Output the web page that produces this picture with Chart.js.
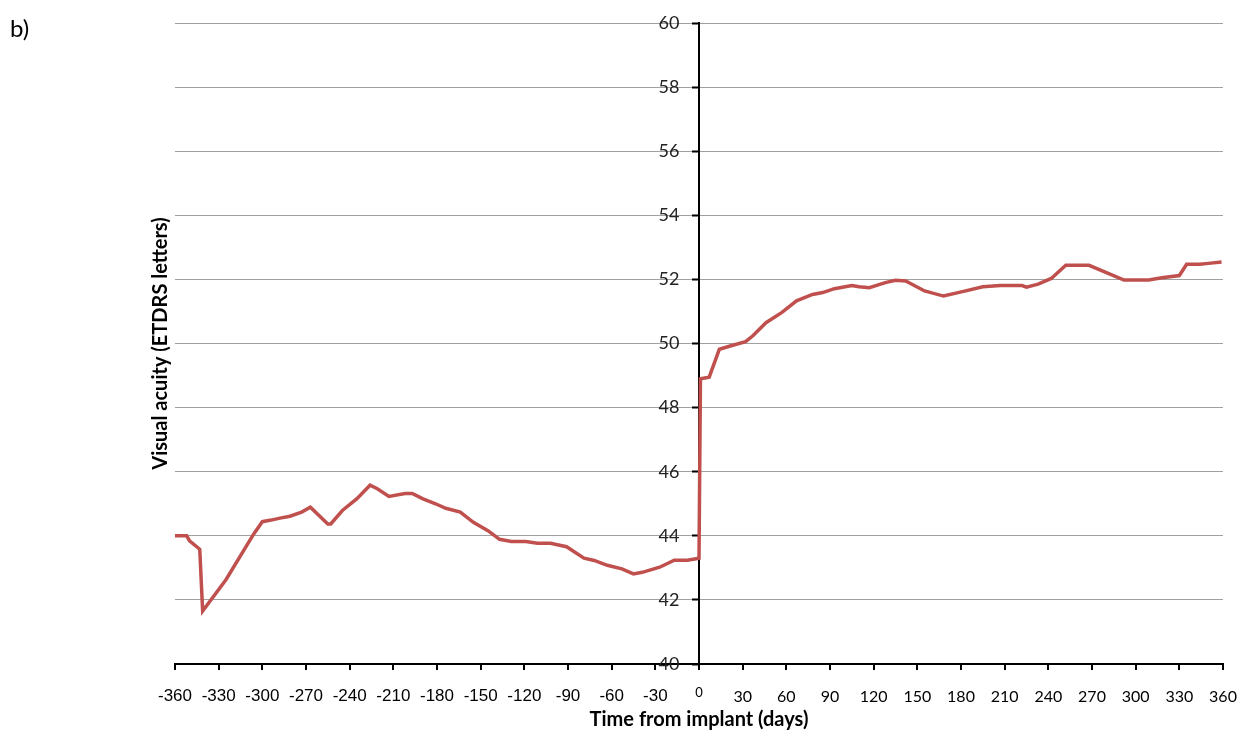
<!DOCTYPE html>
<html>
<head>
<meta charset="utf-8">
<title>Visual acuity vs time from implant</title>
<script src="https://cdn.jsdelivr.net/npm/chart.js@4/dist/chart.umd.min.js"></script>
<style>
  html, body { margin: 0; padding: 0; background: #fff; }
  #wrap { position: relative; width: 1243px; height: 734px; }
  #panel { position: absolute; left: 10px; top: 13px; font: 24px Lato, sans-serif; color: #000; }
</style>
</head>
<body>
<div id="wrap">
  <div id="panel">b)</div>
  <canvas id="chart" width="1243" height="734"></canvas>
</div>
<script>
// Days relative to implant and mean visual acuity (ETDRS letters).
const days = [
  -360, -352, -350, -343, -341, -325, -306, -300, -294, -287, -281, -273, -267,
  -255, -253, -245, -235, -226, -221, -213, -202, -197, -190, -181, -174, -164,
  -155, -145, -137, -129, -119, -111, -102, -91, -79, -72, -63, -53, -45, -39,
  -27, -17, -8, 0, 1,
  7, 14, 22, 32, 37, 46, 57, 67, 78, 85, 93, 105, 110, 117, 128, 135, 142, 155,
  168, 181, 195, 207, 222, 225, 233, 242, 252, 268, 292, 309, 318, 330, 335, 344,
  350, 359
];
const acuity = [
  44.0, 44.0, 43.84, 43.58, 41.65, 42.63, 44.05, 44.44, 44.49, 44.56, 44.61, 44.74, 44.89,
  44.37, 44.37, 44.79, 45.16, 45.58, 45.47, 45.23, 45.32, 45.32, 45.16, 45.0, 44.86, 44.74,
  44.42, 44.16, 43.89, 43.82, 43.82, 43.77, 43.77, 43.66, 43.3, 43.23, 43.08, 42.97, 42.81, 42.86,
  43.02, 43.24, 43.24, 43.3, 48.9,
  48.95, 49.82, 49.93, 50.06, 50.24, 50.65, 50.97, 51.33, 51.53, 51.59, 51.71, 51.81, 51.77, 51.74,
  51.9, 51.97, 51.95, 51.64, 51.48, 51.62, 51.77, 51.81, 51.81, 51.76, 51.85, 52.03, 52.44, 52.44,
  51.98, 51.98, 52.05, 52.12, 52.47, 52.47, 52.5, 52.54
];

const X_MIN = -360, X_MAX = 360, X_STEP = 30;
const Y_MIN = 40, Y_MAX = 60, Y_STEP = 2;

const X_TITLE = "Time from implant (days)";
const Y_TITLE = "Visual acuity (ETDRS letters)";

// The y axis crosses at day 0; its numbers sit a little to the left of it.
const Y_AXIS_AT = 0;
const Y_LABELS_AT = -13.5;

const points = days.map((d, i) => ({ x: d, y: acuity[i] }));

// Negative tick labels look like Arial in the source, positive ones like Calibri.
// A tall line height pushes the numbers down without a big tick padding
// (tick padding would also eat room at the right edge).
const xTickFont = (ctx) => {
  const v = ctx.tick ? ctx.tick.value : 1;
  if (v < 0) return { family: "'Liberation Sans', Arial, sans-serif", size: 17, lineHeight: "41px" };
  if (v === 0) return { family: "Lato, sans-serif", size: 13, lineHeight: "33px" };
  return { family: "Lato, sans-serif", size: 16, lineHeight: "41px" };
};

// Axes drawn inside the plot should not steal room from it.
const noWidth = (scale) => { scale.width = 0; };

new Chart(document.getElementById("chart").getContext("2d"), {
  type: "line",
  data: {
    datasets: [{
      label: "Visual acuity",
      data: points,
      borderColor: "#c0504d",
      backgroundColor: "#c0504d",
      borderWidth: 3.5,
      pointRadius: 0,
      tension: 0,
      fill: false,
    }],
  },
  options: {
    responsive: false,
    animation: false,
    devicePixelRatio: 1,
    layout: { padding: { left: 147, right: 20, top: 23, bottom: 0 } },
    plugins: {
      legend: { display: false },
      tooltip: { enabled: false },
    },
    scales: {
      x: {
        type: "linear",
        position: "bottom",
        min: X_MIN,
        max: X_MAX,
        ticks: {
          stepSize: X_STEP,
          color: "#000",
          padding: 6,
          maxRotation: 0,
          autoSkip: false,
          font: xTickFont,
        },
        grid: {
          drawOnChartArea: false,
          drawTicks: true,
          tickLength: 6,
          color: "#000",
          lineWidth: 2,
        },
        border: { display: true, color: "#000", width: 2 },
        title: {
          display: true,
          text: X_TITLE,
          color: "#000",
          font: { family: "Lato, sans-serif", size: 20, weight: "bold", lineHeight: 1 },
          padding: { top: -13, bottom: 4 },
        },
      },
      // Axis line, tick marks and horizontal grid.
      y: {
        type: "linear",
        position: { x: Y_AXIS_AT },
        min: Y_MIN,
        max: Y_MAX,
        afterFit: noWidth,
        ticks: { stepSize: Y_STEP, display: false },
        grid: {
          color: "#a0a0a0",
          lineWidth: 1,
          tickColor: "#000",
          tickLength: 6,
          tickWidth: 2,
        },
        border: { display: true, color: "#000", width: 2 },
      },
      // Numbers of the y axis only.
      yLabels: {
        type: "linear",
        position: { x: Y_LABELS_AT },
        min: Y_MIN,
        max: Y_MAX,
        afterFit: noWidth,
        ticks: {
          stepSize: Y_STEP,
          color: "#222",
          font: { family: "Lato, sans-serif", size: 18 },
        },
        grid: { display: false, drawTicks: false },
        border: { display: false },
      },
      // Empty axis on the left that only carries the vertical title.
      yTitle: {
        type: "linear",
        position: "left",
        min: Y_MIN,
        max: Y_MAX,
        ticks: { display: false },
        grid: { display: false, drawTicks: false },
        border: { display: false },
        title: {
          display: true,
          text: Y_TITLE,
          color: "#000",
          font: { family: "Lato, sans-serif", size: 20, weight: "bold" },
          padding: { top: 2, bottom: 2 },
        },
      },
    },
  },
});
</script>
</body>
</html>
